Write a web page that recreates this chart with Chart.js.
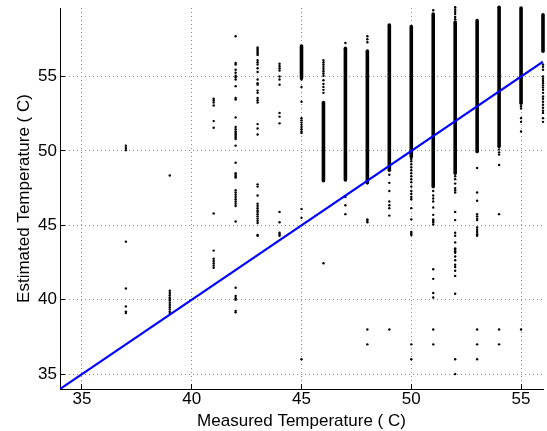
<!DOCTYPE html>
<html>
<head>
<meta charset="utf-8">
<script src="https://cdn.jsdelivr.net/npm/chart.js@4.4.1/dist/chart.umd.min.js"></script>
<style>
  html, body { margin: 0; padding: 0; background: #fff; }
</style>
</head>
<body>
<canvas id="tempChart" width="547" height="431"></canvas>
<script>
// measured temperature (C) of each sensor reading group
const measured = [37, 39, 41, 42, 43, 44, 45, 46, 47, 48, 49, 50, 51, 52, 53, 54, 55, 56];

// isolated estimates per measured value
const sparseEstimates = [
  [50.35, 50.2, 50.05, 43.9, 40.75, 39.55, 39.2, 39.1],
  [48.35, 40.6, 40.45, 40.3, 40.15, 40.05, 39.95, 39.8, 39.65, 39.5, 39.35, 39.2, 39.1],
  [53.5, 53.4, 53.25, 53.05, 52.0, 51.55, 45.8, 43.3, 42.75, 42.6, 42.45, 42.3, 42.15],
  [57.7, 55.9, 55.8, 55.45, 55.25, 55.05, 54.95, 54.8, 54.35, 53.55, 53.45, 52.25, 51.6, 51.45, 51.3, 51.2,
   51.1, 51.0, 50.9, 50.8, 50.35, 49.2, 48.5, 48.4, 48.3, 48.2, 47.35, 47.2, 47.05, 46.9, 46.75, 46.6,
   46.45, 46.3, 45.25, 40.8, 40.25, 40.1, 40.0, 39.25, 39.15],
  [56.95, 56.85, 56.75, 56.65, 56.55, 56.45, 56.1, 55.95, 55.8, 55.55, 55.3, 54.8, 54.55, 54.45, 54.05,
   53.9, 53.55, 53.4, 53.25, 51.8, 51.5, 51.1, 47.75, 47.6, 47.0, 46.45, 46.3, 46.15, 46.0, 45.9, 45.75,
   45.6, 45.45, 45.3, 45.15, 44.35, 44.3],
  [55.85, 55.7, 55.55, 55.4, 55.0, 54.8, 54.45, 52.55, 52.3, 51.85, 45.9, 45.2, 44.5, 44.4, 44.3],
  [54.8, 54.3, 53.3, 52.2, 52.05, 51.9, 51.75, 51.6, 51.45, 51.3, 51.2, 46.1, 45.5, 36.0],
  [56.1, 55.95, 55.8, 55.65, 55.5, 55.35, 55.2, 55.05, 54.75, 54.5, 54.3, 54.1, 53.9, 42.45],
  [57.25, 46.9, 46.35, 45.75],
  [57.7, 57.5, 57.3, 45.4, 45.3, 45.2, 38.0, 37.0],
  [48.4, 47.85, 47.3, 46.6, 46.35, 46.15, 45.65, 38.0],
  [49.45, 49.3, 49.1, 48.9, 48.7, 48.5, 48.3, 48.1, 47.9, 47.6, 47.3, 47.1, 46.9, 46.75, 46.15, 45.4,
   44.55, 44.45, 44.35, 37.0, 36.0],
  [59.45, 47.3, 47.0, 46.8, 46.6, 46.2, 45.7, 45.4, 45.3, 45.2, 45.05, 42.05, 41.4, 40.45, 40.15, 38.0, 37.0],
  [59.65, 59.5, 59.35, 59.2, 59.0, 58.85, 48.3, 48.1, 47.8, 47.5, 47.35, 47.2, 45.9, 45.35, 44.5, 44.3,
   43.85, 43.45, 43.35, 43.25, 43.15, 42.9, 42.65, 42.35, 42.2, 41.95, 41.6, 40.4, 36.0, 35.0],
  [48.85, 47.2, 46.65, 45.75, 45.6, 45.45, 45.35, 44.85, 44.7, 44.55, 44.4, 44.3, 38.0, 37.0, 36.0],
  [50.1, 49.9, 49.75, 49.05, 45.75, 38.0, 37.0],
  [53.0, 52.85, 52.2, 51.95, 51.3, 38.0],
  [55.8, 55.65, 55.45, 55.0, 54.85, 54.7, 54.55, 54.4, 54.25, 54.1, 53.9, 53.65, 53.5, 53.3, 53.1, 52.9,
   52.7, 52.55, 52.2, 51.95]
];

// continuous runs of estimates (low / high end), null where there is none
const denseLow  = [null, null, null, null, null, null, 54.9, 48.0, 48.05, 47.85, 48.7, 49.6, 47.6, 48.5, 49.95, 50.3, 53.2, 56.7];
const denseHigh = [null, null, null, null, null, null, 57.05, 53.25, 56.9, 56.7, 58.45, 58.35, 59.2, 58.65, 58.75, 59.65, 59.6, 59.15];

// ideal estimate = measured
const idealX = [34, 56];

const xTicks = [35, 40, 45, 50, 55];
const yTicks = [35, 40, 45, 50, 55];

const points = [];
measured.forEach((x, i) => sparseEstimates[i].forEach(y => points.push({ x: x, y: y })));

const datasets = [{
  label: 'ideal',
  data: idealX.map(v => ({ x: v, y: v })),
  showLine: true,
  borderColor: '#0000ff',
  borderWidth: 2.2,
  pointRadius: 0,
  order: 0
}, {
  label: 'estimates',
  data: points,
  backgroundColor: '#000',
  borderWidth: 0,
  pointRadius: 1.2,
  clip: 4,
  order: 1
}];

measured.forEach((x, i) => {
  if (denseLow[i] == null) return;
  datasets.push({
    label: 'run ' + x,
    data: [{ x: x, y: denseLow[i] }, { x: x, y: denseHigh[i] }],
    showLine: true,
    borderColor: '#000',
    borderWidth: 3.6,
    borderCapStyle: 'round',
    pointRadius: 0,
    clip: 4,
    order: 2
  });
});

const axisFont = { family: '"Liberation Sans", Arial, sans-serif', size: 17 };

const ctx = document.getElementById('tempChart');
const tempChart = new Chart(ctx, {
  type: 'scatter',
  data: { datasets: datasets },
  options: {
    responsive: false,
    animation: false,
    events: [],
    layout: { padding: { left: 0, right: 3, top: 8, bottom: 0 } },
    plugins: {
      legend: { display: false },
      tooltip: { enabled: false }
    },
    scales: {
      x: {
        type: 'linear',
        min: 34,
        max: 56,
        afterBuildTicks: s => { s.ticks = xTicks.map(v => ({ value: v })); },
        afterFit: s => { s.height = 42; s.paddingLeft = 0; s.paddingRight = 0; },
        border: { display: true, color: '#000', width: 1, dash: [1, 3] },
        grid: {
          color: '#8c8c8c',
          lineWidth: 1,
          tickLength: -5,
          tickColor: '#000',
          tickWidth: 1,
          tickBorderDash: []
        },
        ticks: { color: '#000', font: axisFont, padding: 5, maxRotation: 0 },
        title: {
          display: true,
          text: 'Measured Temperature ( C)',
          color: '#000',
          font: axisFont,
          padding: { top: 0, bottom: -1 }
        }
      },
      y: {
        type: 'linear',
        min: 34,
        max: 59.6,
        afterBuildTicks: s => { s.ticks = yTicks.map(v => ({ value: v })); },
        afterFit: s => { s.width = 60; s.paddingTop = 0; s.paddingBottom = 0; },
        border: { display: true, color: '#000', width: 1, dash: [1, 3] },
        grid: {
          color: '#8c8c8c',
          lineWidth: 1,
          tickLength: -5,
          tickColor: '#000',
          tickWidth: 1,
          tickBorderDash: []
        },
        ticks: { color: '#000', font: axisFont, padding: 8 },
        title: {
          display: true,
          text: 'Estimated Temperature ( C)',
          color: '#000',
          font: axisFont,
          padding: { top: 14, bottom: 0 }
        }
      }
    }
  }
});
</script>
</body>
</html>
